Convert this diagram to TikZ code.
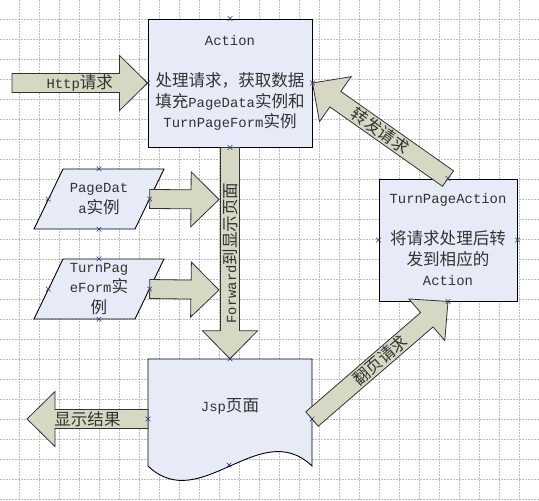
\documentclass[tikz,border=0pt]{standalone}
\usepackage{fontspec}
\setmainfont{Liberation Mono}
\newfontfamily\cjk{Noto Sans CJK SC}[Scale=1.19]
\newcommand\zh[1]{{\cjk #1}}
\usetikzlibrary{calc,shapes.misc}
\definecolor{boxfill}{HTML}{E6EBF7}
\definecolor{arrfill}{HTML}{D6D8C3}
\definecolor{txtc}{HTML}{333333}
\definecolor{gridc}{HTML}{BDBDBD}
\definecolor{markc}{HTML}{2A2F80}
\tikzset{
  gridline/.style={draw=gridc, line width=0.7pt, dash pattern=on 1.5pt off 1.5pt},
  boxshape/.style={draw=black, fill=boxfill, line width=0.9pt},
  arrowshape/.style={draw=black!80, fill=arrfill, line width=0.8pt, line join=miter},
  txtstyle/.style={text=txtc, font=\fontsize{13.9}{20.5}\selectfont, inner sep=0pt, align=center},
  placeholder/.style={inner sep=0pt, draw=none},
  xmk/.style={cross out, draw=markc, line width=0.6pt, minimum size=4pt, inner sep=0pt},
}
\newcommand\blkarrow[4][0]{%
  \path (#2) coordinate (ba1) (#3) coordinate (ba2);
  \pgfmathanglebetweenpoints{\pgfpointanchor{ba1}{center}}{\pgfpointanchor{ba2}{center}}%
  \let\baang\pgfmathresult
  \pgfpointdiff{\pgfpointanchor{ba1}{center}}{\pgfpointanchor{ba2}{center}}%
  \pgfgetlastxy{\badx}{\bady}%
  \pgfmathveclen{\badx}{\bady}\let\balen\pgfmathresult
  \pgfmathsetmacro\babase{\balen-28}%
  \pgfmathsetmacro\bamid{\balen/2}%
  \pgfmathsetmacro\barot{\baang+#1}%
  \begin{scope}[shift={(ba1)}, rotate=\baang]
    \draw[arrowshape] (0pt,-9.5pt) -- (\babase pt,-9.5pt) -- (\babase pt,-27.5pt)
      -- (\balen pt,0pt) -- (\babase pt,27.5pt) -- (\babase pt,9.5pt) -- (0pt,9.5pt) -- cycle;
    \if\relax\detokenize{#4}\relax\else
      \node[txtstyle, rotate=\barot] at (\bamid pt,0pt) {#4};
    \fi
  \end{scope}}
\begin{document}
\begin{tikzpicture}[x=1pt,y=-1pt]
\useasboundingbox (0,0) rectangle (539,501);
\fill[white] (0,0) rectangle (539,501);
\foreach \i in {0,...,25} \draw[gridline] (19.5+20*\i,0) -- (19.5+20*\i,501);
\foreach \i in {0,...,24} \draw[gridline] (0,19.5+20*\i) -- (539,19.5+20*\i);

% boxes
\node[boxshape, txtstyle, minimum width=164pt, minimum height=128pt] (act) at (230,83)
  {Action\\[20.5pt]\zh{处理请求，获取数据}\\\zh{填充}PageData\zh{实例和}\\TurnPageForm\zh{实例}};
\node[boxshape, txtstyle, minimum width=138pt, minimum height=122pt] (tpa) at (448,240)
  {TurnPageAction\\[20.5pt]\zh{将请求处理后转}\\\zh{发到相应的}\\Action};

\node[placeholder, minimum width=101pt, minimum height=60pt] (pd) at (99,199) {};
\draw[boxshape] (63,169) -- (164,169) -- (135,229) -- (34,229) -- cycle;
\node[txtstyle] (pdt) at (99,199) {PageDat\\a\zh{实例}};

\node[placeholder, minimum width=101pt, minimum height=60pt] (tpf) at (99,289) {};
\draw[boxshape] (63,259) -- (164,259) -- (135,319) -- (34,319) -- cycle;
\node[txtstyle] (tpft) at (99,289) {TurnPag\\eForm\zh{实}\\\zh{例}};

\node[placeholder, minimum width=164pt, minimum height=107pt] (jsp) at (230,412.5) {};
\draw[boxshape] (148,359) -- (312,359) -- (312,466) .. controls (260,416) and (200,516) .. (148,466) -- cycle;
\node[txtstyle] (jspt) at (230,406) {Jsp\zh{页面}};

\coordinate (httpS) at (12,83);
\coordinate (pdE) at (219,199.5);
\coordinate (tpfE) at (219,290);
\coordinate (dispE) at (27,419);
\coordinate (jspw) at (148,419);
\coordinate (jspe) at (312,419);
\coordinate (jsps) at (229,465);

% arrows
\blkarrow{httpS}{act.west}{Http\zh{请求}}
\blkarrow[180]{act.south}{jsp.north}{Forward\zh{到显示页面}}
\blkarrow{pd.east}{pdE}{}
\blkarrow{tpf.east}{tpfE}{}
\blkarrow[180]{jspw}{dispE}{\zh{显示结果}}
\blkarrow{jspe}{tpa.south}{\zh{翻页请求}}
\blkarrow[180]{tpa.north}{act.east}{\zh{转发请求}}

% connection markers
\foreach \a [count=\k] in {act.north,act.south,act.west,act.east,
  pd.north,pd.south,pd.west,pd.east,tpf.north,tpf.south,tpf.west,tpf.east,
  tpa.north,tpa.south,tpa.west,tpa.east,jsp.north,jspw,jspe,jsps}
  \node[xmk] (xm\k) at (\a) {};
\end{tikzpicture}
\end{document}
